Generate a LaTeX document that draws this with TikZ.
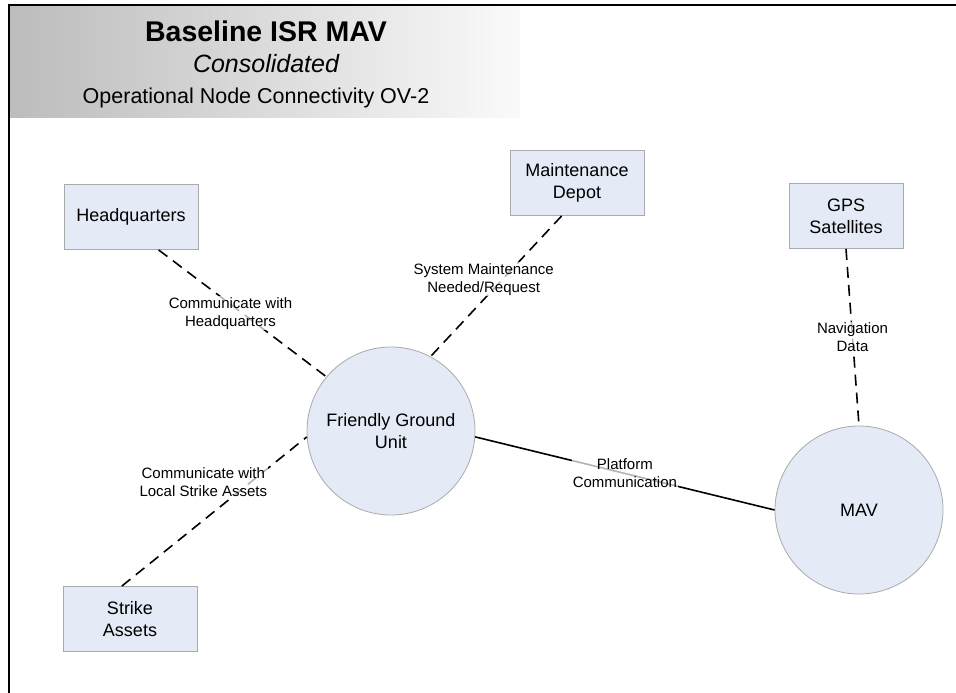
\documentclass[tikz,border=0pt]{standalone}
\usepackage{fontspec}
\setmainfont{Liberation Sans}
\usepackage{xcolor}
\usepackage{tikz}
\usetikzlibrary{shapes,positioning}
\definecolor{nodefill}{RGB}{228,234,246}
\definecolor{nodeline}{RGB}{170,170,170}
\definecolor{bandgray}{RGB}{188,188,188}
\tikzset{box/.style={rectangle,draw=nodeline,fill=nodefill,line width=0.8pt,minimum width=134pt,minimum height=65pt,align=center,font=\fontsize{18}{22}\selectfont}}
\tikzset{circ/.style={circle,draw=nodeline,fill=nodefill,line width=0.8pt,minimum size=168pt,inner sep=0pt,align=center,font=\fontsize{18}{22}\selectfont}}
\tikzset{lbl/.style={fill=white,fill opacity=0.7,text opacity=1,inner sep=1pt,align=center,font=\fontsize{15}{18}\selectfont}}
\tikzset{link/.style={line width=1.6pt,dash pattern=on 11pt off 7pt}}

\begin{document}
\begin{tikzpicture}[x=1pt,y=-1pt]
    \useasboundingbox (0,0) rectangle (956,693);
    \shade[left color=bandgray,right color=gray!4] (9,5) rectangle (520,117);
    \draw[line width=2pt] (9,693) -- (9,5) -- (956,5);

    \node[font=\bfseries\fontsize{28.5}{32}\selectfont] (title) at (266,31) {Baseline ISR MAV};
    \node[font=\itshape\fontsize{25}{28}\selectfont] (sub) at (266,64) {Consolidated};
    \node[font=\fontsize{21.5}{24}\selectfont] (view) at (256,98) {Operational Node Connectivity OV-2};

    \node[box] (hq) at (131,217) {Headquarters};
    \node[box] (md) at (577,183) {Maintenance\\Depot};
    \node[box,minimum width=114pt] (gps) at (846,216) {GPS\\Satellites};
    \node[box] (sa) at (130,619) {Strike\\Assets};
    \node[circ] (fgu) at (391,431) {Friendly Ground\\Unit};
    \node[circ] (mav) at (859,510) {MAV};

    \draw [link] (hq.-50) to []node[lbl,pos=0.5,xshift=-12pt]{Communicate with\\Headquarters} (fgu.140);
    \draw [link] (md.-115) to []node[lbl,pos=0.45,xshift=-19pt]{System Maintenance\\Needed/Request} (fgu.62);
    \draw [link] (gps.south) to []node[lbl,pos=0.5]{Navigation\\Data} (mav.north);
    \draw [link] (sa.104) to []node[lbl,pos=0.7,xshift=-48pt]{Communicate with\\Local Strike Assets} (fgu.184);
    \draw [line width=1.6pt] (fgu.-4) to []node[lbl,pos=0.5]{Platform\\Communication} (mav.west);
\end{tikzpicture}
\end{document}
